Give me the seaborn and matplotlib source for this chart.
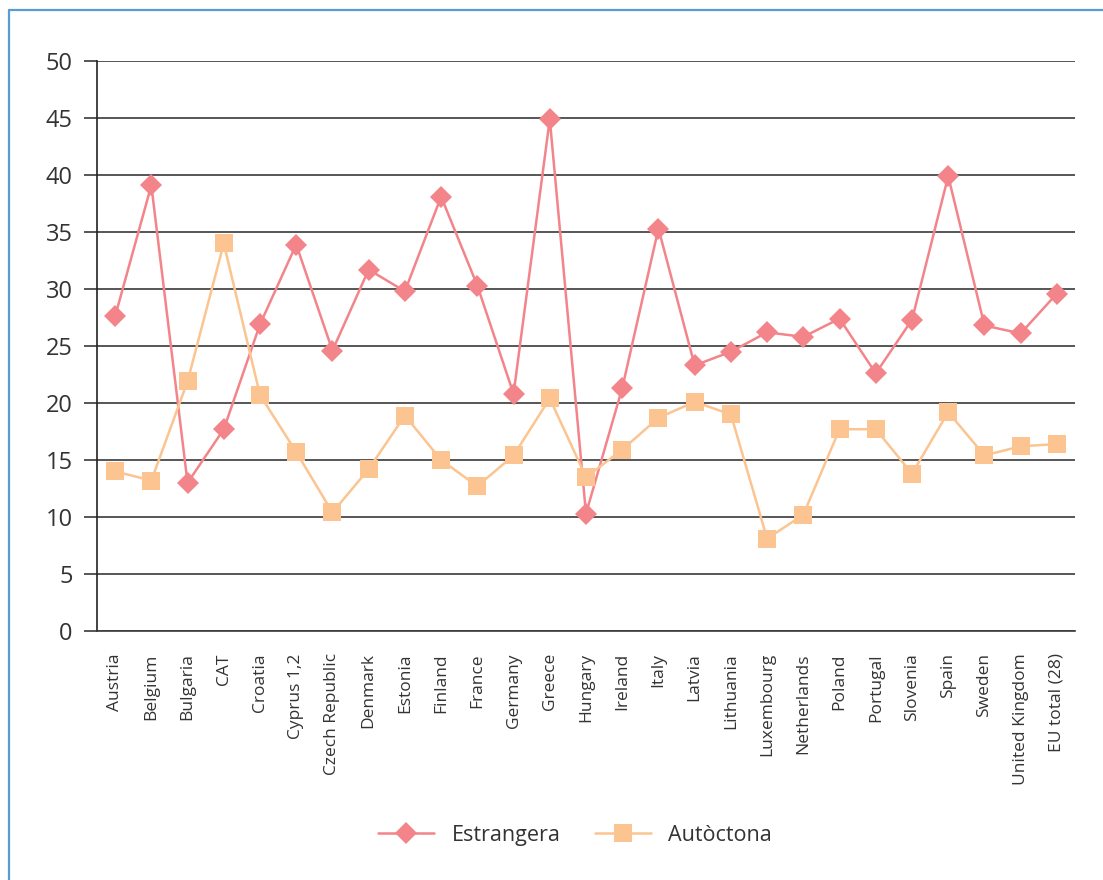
import numpy as np
import pandas as pd
import seaborn as sns
import matplotlib.pyplot as plt
from matplotlib.lines import Line2D
from matplotlib.ticker import FixedLocator, NullFormatter

# Chart data
countries = ['Austria', 'Belgium', 'Bulgaria', 'CAT', 'Croatia', 'Cyprus 1,2',
             'Czech Republic', 'Denmark', 'Estonia', 'Finland', 'France',
             'Germany', 'Greece', 'Hungary', 'Ireland', 'Italy', 'Latvia',
             'Lithuania', 'Luxembourg', 'Netherlands', 'Poland', 'Portugal',
             'Slovenia', 'Spain', 'Sweden', 'United Kingdom', 'EU total (28)']
estrangera = [27.6, 39.1, 13.0, 17.7, 26.9, 33.9, 24.6, 31.7, 29.8, 38.1, 30.3,
              20.8, 44.9, 10.3, 21.3, 35.3, 23.3, 24.5, 26.2, 25.8, 27.4, 22.6,
              27.3, 39.9, 26.8, 26.1, 29.6]
autoctona = [14.0, 13.2, 21.9, 34.0, 20.7, 15.7, 10.4, 14.2, 18.9, 15.0, 12.7,
             15.4, 20.4, 13.5, 15.9, 18.7, 20.1, 19.0, 8.1, 10.2, 17.7, 17.7,
             13.8, 19.2, 15.4, 16.2, 16.4]
y_ticks = list(range(0, 51, 5))

sns.set_style('white')
plt.rcParams['font.family'] = ['Open Sans', 'DejaVu Sans']

df = pd.DataFrame({'pos': np.arange(len(countries)),
                   'Estrangera': estrangera,
                   'Autòctona': autoctona})

fig = plt.figure(figsize=(11.03, 8.80), dpi=100)
ax = fig.add_axes([97 / 1103, 1 - 631 / 880, 978 / 1103, 570 / 880])

sns.lineplot(data=df, x='pos', y='Estrangera', ax=ax, color='#f3848a',
             linewidth=1.8, marker='D', markersize=11, markeredgewidth=0,
             label='Estrangera', legend=False)
sns.lineplot(data=df, x='pos', y='Autòctona', ax=ax, color='#fbc490',
             linewidth=1.8, marker='s', markersize=13.5, markeredgewidth=0,
             label='Autòctona', legend=False)

ax.set_xlim(-0.5, len(countries) - 0.5)
ax.set_ylim(0, 50)
ax.set_yticks(y_ticks)
ax.yaxis.grid(True, color='#3a3a3a', linewidth=1.2)
ax.set_axisbelow(True)

# tick marks between categories, labels at centres
ax.xaxis.set_major_locator(FixedLocator(np.arange(len(countries) + 1) - 0.5))
ax.xaxis.set_major_formatter(NullFormatter())
ax.set_xticks(np.arange(len(countries)), minor=True)
ax.set_xticklabels(countries, minor=True, rotation=90, fontsize=12.5, color='#333333')
ax.tick_params(axis='x', which='major', length=9, width=1.2, color='#3a3a3a', direction='out')
ax.tick_params(axis='x', which='minor', length=0, pad=16)
ax.tick_params(axis='y', length=9.5, width=1.2, color='#3a3a3a', labelsize=17,
               labelcolor='#333333', pad=8, left=True)

for side in ['top', 'right']:
    ax.spines[side].set_visible(False)
ax.spines['left'].set_color('#222222')
ax.spines['bottom'].set_color('#3a3a3a')
ax.spines['left'].set_linewidth(1.2)
ax.spines['bottom'].set_linewidth(1.2)
ax.set_xlabel('')
ax.set_ylabel('')

handles, labels = ax.get_legend_handles_labels()
leg = fig.legend(handles, labels, loc='center', bbox_to_anchor=(575 / 1103, 1 - 835 / 880),
                 ncol=2, frameon=False, fontsize=15.5, handlelength=2.6,
                 columnspacing=1.6, handletextpad=0.8)
for t in leg.get_texts():
    t.set_color('#333333')

# light blue frame on left and top
fig.add_artist(Line2D([8.5 / 1103, 8.5 / 1103], [0, 1 - 10.5 / 880],
                      color='#5b9bd5', linewidth=1.6, transform=fig.transFigure))
fig.add_artist(Line2D([8.5 / 1103, 1], [1 - 10.5 / 880, 1 - 10.5 / 880],
                      color='#5b9bd5', linewidth=1.6, transform=fig.transFigure))

fig.savefig('out.png', dpi=100)
